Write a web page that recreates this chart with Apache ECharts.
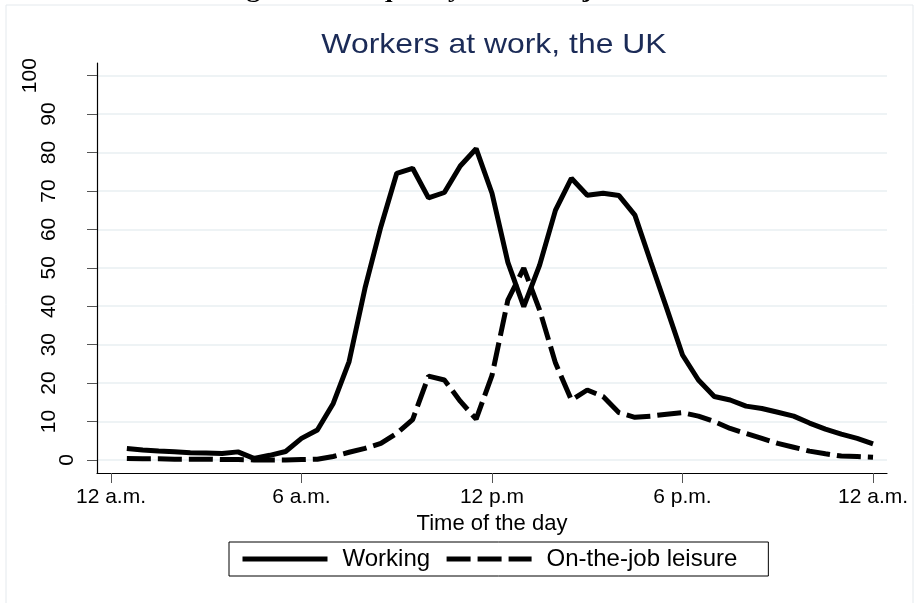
<!DOCTYPE html>
<html>
<head>
<meta charset="utf-8">
<script src="https://cdn.jsdelivr.net/npm/echarts@6/dist/echarts.min.js"></script>
<style>
  html, body { margin: 0; padding: 0; background: #fff; }
  #chart { width: 917px; height: 603px; }
</style>
</head>
<body>
<div id="chart"></div>
<script>
  // half-hour slots through the day
  var hours = [0.5, 1, 1.5, 2, 2.5, 3, 3.5, 4, 4.5, 5, 5.5, 6,
    6.5, 7, 7.5, 8, 8.5, 9, 9.5, 10, 10.5, 11, 11.5, 12,
    12.5, 13, 13.5, 14, 14.5, 15, 15.5, 16, 16.5, 17, 17.5, 18,
    18.5, 19, 19.5, 20, 20.5, 21, 21.5, 22, 22.5, 23, 23.5, 24]
  var working = [3.0, 2.6, 2.3, 2.1, 1.9, 1.8, 1.7, 2.1, 0.4, 1.2, 2.2, 5.6,
    7.8, 14.7, 25.6, 44.7, 60.7, 74.6, 75.9, 68.2, 69.6, 76.5, 81.0, 69.4,
    51.4, 39.9, 50.7, 65.0, 73.3, 68.9, 69.4, 68.8, 63.7, 51.5, 39.5, 27.3,
    20.8, 16.5, 15.6, 14.0, 13.4, 12.4, 11.4, 9.6, 8.0, 6.7, 5.6, 4.2]
  var leisure = [0.4, 0.3, 0.3, 0.2, 0.2, 0.2, 0.1, 0.1, 0.0, 0.0, 0.0, 0.1,
    0.2, 0.9, 2.0, 3.0, 4.3, 6.9, 10.5, 21.8, 20.8, 15.3, 10.6, 22.0,
    41.6, 49.9, 39.0, 25.2, 15.6, 18.2, 16.5, 12.3, 11.1, 11.4, 11.9, 12.3,
    11.4, 10.0, 8.2, 6.9, 5.6, 4.3, 3.3, 2.3, 1.6, 1.0, 0.9, 0.7]
  var xTicks = [0, 6, 12, 18, 24]
  var xTickLabels = ['12 a.m.', '6 a.m.', '12 p.m', '6 p.m.', '12 a.m.']
  var yTicks = [0, 10, 20, 30, 40, 50, 60, 70, 80, 90, 100]
  var seriesNames = ['Working', 'On-the-job leisure']

  var font = 'Liberation Sans'

  function pairs(vals) {
    return hours.map(function (h, i) { return [h, vals[i]] })
  }

  var chart = echarts.init(document.getElementById('chart'))
  chart.setOption({
    animation: false,
    backgroundColor: '#fff',
    graphic: [
      // outer frame of the graph region
      {
        type: 'rect',
        shape: { x: 6, y: 5, width: 907, height: 620 },
        style: { fill: 'none', stroke: '#e4e9ed', lineWidth: 1 }
      },
      // page caption above, mostly cut off
      {
        type: 'text',
        x: 222,
        y: 3,
        scaleX: 1.15,
        style: {
          text: 'Figure 1: Frequency of on-the-job leisure',
          font: 'bold 24px "Liberation Serif"',
          fill: '#000',
          align: 'left',
          verticalAlign: 'bottom'
        }
      },
      {
        type: 'text',
        x: 494,
        y: 31,
        scaleX: 1.14,
        style: {
          text: 'Workers at work, the UK',
          font: '28px "Liberation Sans"',
          fill: '#1b2b57',
          align: 'center',
          verticalAlign: 'top'
        }
      }
    ],
    grid: {
      left: 97,
      right: 30,
      top: 63,
      bottom: 130
    },
    legend: {
      data: seriesNames,
      left: 229,
      top: 542,
      orient: 'horizontal',
      borderColor: '#000',
      borderWidth: 1,
      borderRadius: 0,
      padding: [5, 31, 5, 11],
      itemWidth: 85,
      itemHeight: 28,
      itemGap: 14,
      itemStyle: { color: 'rgba(0,0,0,0)', borderWidth: 0, opacity: 0 },
      lineStyle: { width: 5 },
      textStyle: {
        fontFamily: font,
        fontSize: 24,
        color: '#000',
        padding: [0, 0, 0, 10]
      }
    },
    xAxis: {
      type: 'value',
      min: -0.44,
      max: 24.44,
      name: 'Time of the day',
      nameLocation: 'middle',
      nameGap: 34,
      nameTextStyle: { fontFamily: font, fontSize: 22, color: '#000' },
      axisLine: { show: true, onZero: false, lineStyle: { color: '#000', width: 1.2 } },
      axisTick: { show: true, length: 10, lineStyle: { color: '#555' }, customValues: xTicks },
      axisLabel: {
        customValues: xTicks,
        margin: 14,
        fontFamily: font,
        fontSize: 21,
        color: '#000',
        formatter: function (v) {
          return xTickLabels[xTicks.indexOf(v)]
        }
      },
      splitLine: { show: false }
    },
    yAxis: {
      type: 'value',
      min: -3.4,
      max: 103.3,
      axisLine: { show: true, onZero: false, lineStyle: { color: '#000', width: 1.2 } },
      axisTick: { show: true, length: 10, lineStyle: { color: '#555' }, customValues: yTicks },
      axisLabel: {
        customValues: yTicks,
        rotate: 90,
        margin: 19,
        fontFamily: font,
        fontSize: 21,
        color: '#000',
        // longer labels sit further left, as in the original
        formatter: function (v) {
          var s = String(v)
          return '{d' + s.length + '|' + s + '}'
        },
        rich: {
          d1: { fontFamily: font, fontSize: 21, padding: [0, 0, 0, 0] },
          d2: { fontFamily: font, fontSize: 21, padding: [0, 0, 18, 0] },
          d3: { fontFamily: font, fontSize: 21, padding: [0, 0, 37, 0] }
        }
      },
      splitLine: { show: true, lineStyle: { color: '#e8eff2', width: 1.5 } }
    },
    series: [
      {
        name: seriesNames[0],
        type: 'line',
        data: pairs(working),
        symbol: 'none',
        lineStyle: { color: '#000', width: 5 },
        itemStyle: { color: '#000' }
      },
      {
        name: seriesNames[1],
        type: 'line',
        data: pairs(leisure),
        symbol: 'none',
        lineStyle: { color: '#000', width: 5, type: [24, 7] },
        itemStyle: { color: '#000' }
      }
    ]
  })
</script>
</body>
</html>
